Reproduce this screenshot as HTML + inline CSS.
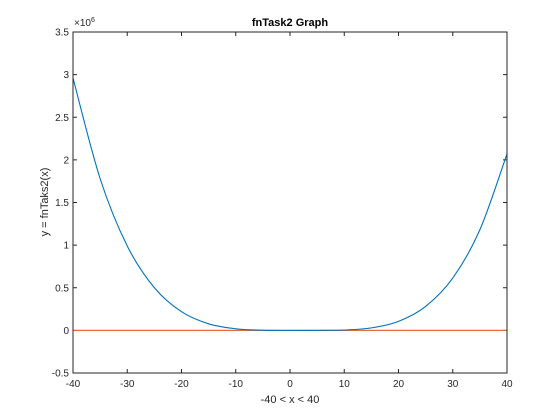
<!DOCTYPE html>
<html><head><meta charset="utf-8"><style>
body{margin:0;background:#fff;}
svg{display:block;font-family:"Liberation Sans",Arial,sans-serif;}
</style></head><body>
<svg id="chart" width="560" height="420">
<rect x="0" y="0" width="560" height="420" fill="#fff"/>
<text x="290" y="26" text-anchor="middle" font-size="11" font-weight="bold" fill="#000">fnTask2 Graph</text>
<text x="290" y="403" text-anchor="middle" font-size="11" fill="#262626">-40 &lt; x &lt; 40</text>
<text transform="translate(48,202) rotate(-90)" text-anchor="middle" font-size="11" fill="#262626">y = fnTaks2(x)</text>
<text x="74" y="26" font-size="10" fill="#262626">×10<tspan dy="-4" font-size="7">6</tspan></text>
</svg>
<script>
const xTicks=[-40,-30,-20,-10,0,10,20,30,40];
const yTicks=[-0.5,0,0.5,1,1.5,2,2.5,3,3.5];
const yTickLabels=["-0.5","0","0.5","1","1.5","2","2.5","3","3.5"];
const seriesX=[-40,-35,-30,-25,-20,-15,-10,-5,0,5,10,15,20,25,30,35,40];
const seriesY=[2960000,1780000,990000,500000,219000,77000,18800,2100,10,100,4400,29400,106000,281000,613000,1180000,2070000];
const lineX=[-40,40];
const lineY=[0,0];
const L=73,R=507,T=32,B=373;
const sx=v=>L+(v+40)/80*(R-L);
const sy=v=>B-(v/1e6+0.5)/4*(B-T);
const svg=document.getElementById('chart');
const NS='http://www.w3.org/2000/svg';
function mk(t,a){const e=document.createElementNS(NS,t);for(const k in a)e.setAttribute(k,a[k]);svg.appendChild(e);return e;}
xTicks.forEach(v=>{
 const x=sx(v);
 const t1=mk('line',{x1:x,x2:x,y1:B,y2:B-4,stroke:'#262626','stroke-width':1});
 
 
 const t2=mk('line',{x1:x,x2:x,y1:T,y2:T+4,stroke:'#262626','stroke-width':1});
 
 
 const lb=mk('text',{x:x,y:B+14,'text-anchor':'middle','font-size':10,fill:'#262626'});
 lb.textContent=String(v);
 
 
});
yTicks.forEach((v,i)=>{
 const y=B-(v+0.5)/4*(B-T);
 const t1=mk('line',{x1:L,x2:L+4,y1:y,y2:y,stroke:'#262626','stroke-width':1});
 
 
 const t2=mk('line',{x1:R,x2:R-4,y1:y,y2:y,stroke:'#262626','stroke-width':1});
 
 
 const lb=mk('text',{x:L-4,y:y+3.5,'text-anchor':'end','font-size':10,fill:'#262626'});
 lb.textContent=yTickLabels[i];
 
 
});
const pts=seriesX.map((x,i)=>[sx(x),sy(seriesY[i])]);
let d='M'+pts[0][0]+','+pts[0][1];
for(let i=0;i<pts.length-1;i++){
 const p0=pts[Math.max(0,i-1)],p1=pts[i],p2=pts[i+1],p3=pts[Math.min(pts.length-1,i+2)];
 const c1=[p1[0]+(p2[0]-p0[0])/6,p1[1]+(p2[1]-p0[1])/6];
 const c2=[p2[0]-(p3[0]-p1[0])/6,p2[1]-(p3[1]-p1[1])/6];
 d+=' C'+c1+' '+c2+' '+p2;
}
const flat=mk('polyline',{points:lineX.map((x,i)=>sx(x)+','+sy(lineY[i])).join(' '),fill:'none',stroke:'#E2703F','stroke-width':1.3});


const curve=mk('path',{d:d,fill:'none',stroke:'#0072BD','stroke-width':1.1});


const box=mk('rect',{x:L,y:T,width:R-L,height:B-T,fill:'none',stroke:'#262626','stroke-width':1});


</script>
</body></html>
